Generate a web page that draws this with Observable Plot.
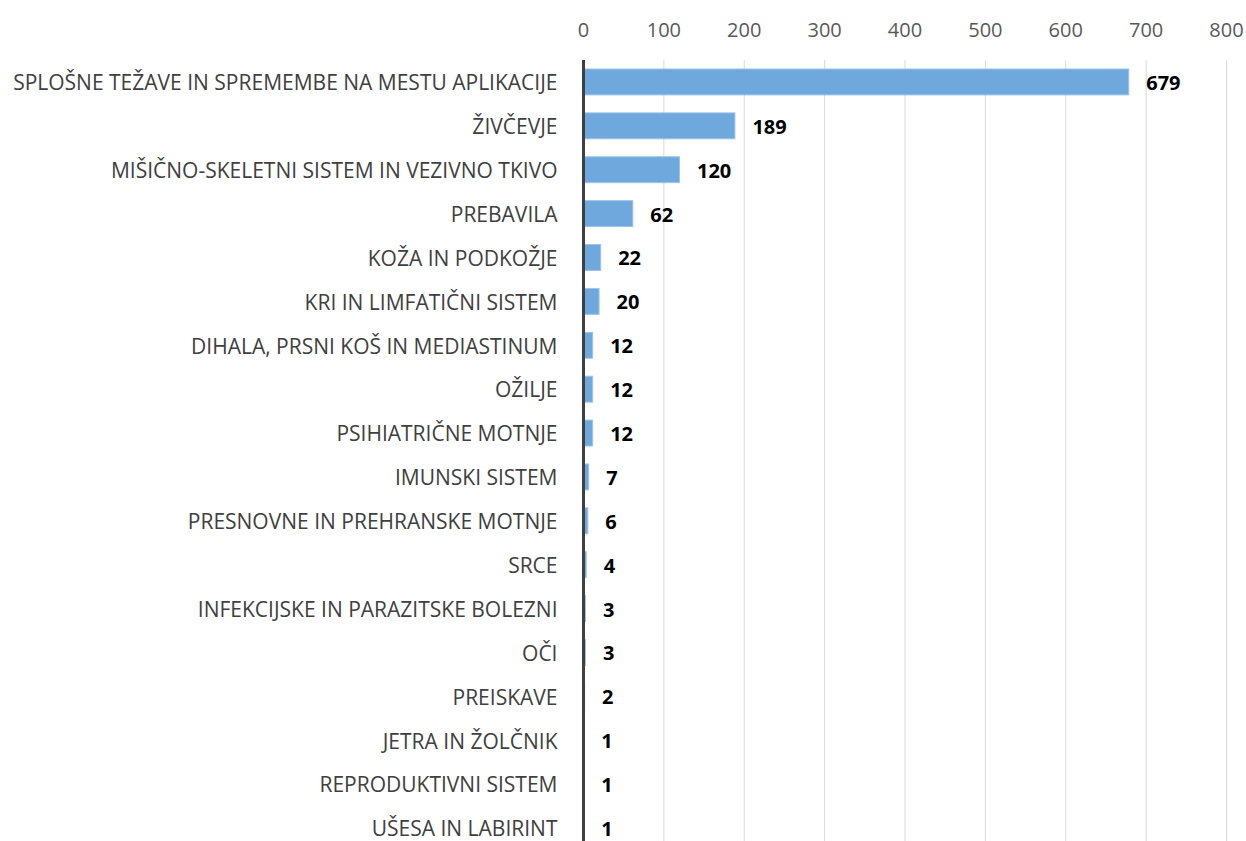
<!DOCTYPE html>
<html>
<head>
<meta charset="utf-8">
<script src="https://cdn.jsdelivr.net/npm/d3@7"></script>
<script src="https://cdn.jsdelivr.net/npm/@observablehq/plot@0.6"></script>
<style>
  html, body { margin: 0; padding: 0; background: #fff; }
  #chart svg { display: block; }
</style>
</head>
<body>
<div id="chart"></div>
<script>
const categories = [
  "SPLOŠNE TEŽAVE IN SPREMEMBE NA MESTU APLIKACIJE",
  "ŽIVČEVJE",
  "MIŠIČNO-SKELETNI SISTEM IN VEZIVNO TKIVO",
  "PREBAVILA",
  "KOŽA IN PODKOŽJE",
  "KRI IN LIMFATIČNI SISTEM",
  "DIHALA, PRSNI KOŠ IN MEDIASTINUM",
  "OŽILJE",
  "PSIHIATRIČNE MOTNJE",
  "IMUNSKI SISTEM",
  "PRESNOVNE IN PREHRANSKE MOTNJE",
  "SRCE",
  "INFEKCIJSKE IN PARAZITSKE BOLEZNI",
  "OČI",
  "PREISKAVE",
  "JETRA IN ŽOLČNIK",
  "REPRODUKTIVNI SISTEM",
  "UŠESA IN LABIRINT"
];
const values = [679, 189, 120, 62, 22, 20, 12, 12, 12, 7, 6, 4, 3, 3, 2, 1, 1, 1];
const xTicks = [0, 100, 200, 300, 400, 500, 600, 700, 800];

const data = categories.map((c, i) => ({category: c, value: values[i]}));

const font = "'Open Sans', sans-serif";

const chart = Plot.plot({
  width: 1246,
  height: 841,
  marginTop: 60,
  marginBottom: 0,
  marginLeft: 583,
  marginRight: 20,
  style: {fontFamily: font, fontSize: "17px", color: "#404040", background: "#fff"},
  x: {domain: [0, 800], ticks: xTicks, axis: null, label: null},
  y: {domain: categories, range: [60, 850], round: false, paddingInner: 0.41, paddingOuter: 0.205, axis: null, label: null},
  marks: [
    Plot.gridX(xTicks, {stroke: "#d9d9d9", strokeOpacity: 1, strokeWidth: 1}),
    Plot.axisX(xTicks, {anchor: "top", label: null, tickSize: 0, tickPadding: 24, fontSize: 20, fill: "#595959", tickFormat: d => String(d)}),
    Plot.axisY({anchor: "left", label: null, tickSize: 0, tickPadding: 26, fontSize: 21, fill: "#404040", dy: 1}),
    Plot.barX(data, {x: "value", y: "category", fill: "#6fa8dc", stroke: "#9dc3e6", strokeWidth: 1}),
    Plot.ruleX([0], {stroke: "#404040", strokeWidth: 3}),
    Plot.text(data, {x: "value", y: "category", text: d => String(d.value), textAnchor: "start", dx: 17, dy: 1, fontWeight: "bold", fontSize: 20, fill: "#000"})
  ]
});

document.getElementById("chart").appendChild(chart);
</script>
</body>
</html>
